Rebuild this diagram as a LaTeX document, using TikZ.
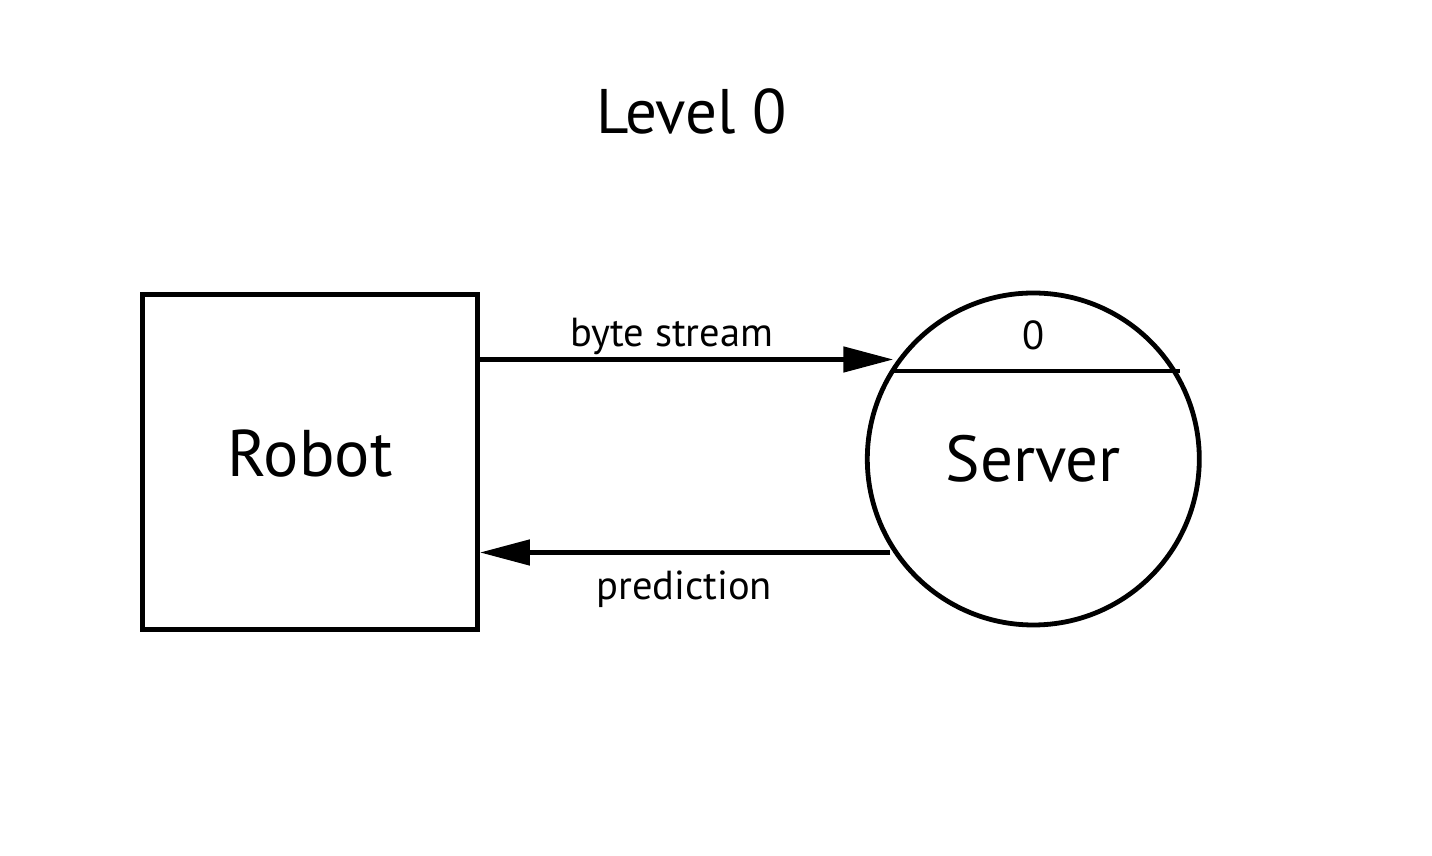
\documentclass[tikz,border=0pt]{standalone}
\usepackage{fontspec}
\setmainfont{PT Sans}
\usepackage{tikz}
\usetikzlibrary{arrows.meta, positioning}

\begin{document}
\begin{tikzpicture}[x=1pt,y=1pt,->,>={Triangle[length=50pt,width=25pt]},line width=4.8pt,
  entity/.style={rectangle,draw,minimum width=335pt,minimum height=335pt,
  font=\fontsize{66}{72}\selectfont,text depth=17pt},
  process/.style={circle,draw,minimum size=332pt,font=\fontsize{65}{70}\selectfont},
  flowlabel/.style={font=\fontsize{40.5}{44}\selectfont,anchor=base,inner sep=0pt}]
  \useasboundingbox (0,0) rectangle (1432,856);
  \node[font=\fontsize{63}{70}\selectfont, anchor=base, inner sep=0pt] (title) at (691.7,722.7) {Level 0};
  \node[entity] (robot) at (310,394) {Robot};
  \node[process] (server) [right=385pt of robot, yshift=3pt] {Server};
  \node[flowlabel] (pid) at ([yshift=109pt]server.center) {0};
  % process id bar
  \draw[-] ([xshift=-140pt,yshift=88pt]server.center) -- ([xshift=147pt,yshift=88pt]server.center);

  \coordinate (bsIn) at ([xshift=-140pt,yshift=99.5pt]server.center);
  \coordinate (prOut) at ([xshift=-143pt,yshift=-93.5pt]server.center);
  \path[every node/.style={flowlabel}]
    (robot.east |- bsIn) edge node[pos=0.4637, yshift=12.8pt] {byte stream} (bsIn)
    (prOut) edge node[pos=0.502, yshift=-47.5pt] {prediction} (robot.east |- prOut);
\end{tikzpicture}
\end{document}
